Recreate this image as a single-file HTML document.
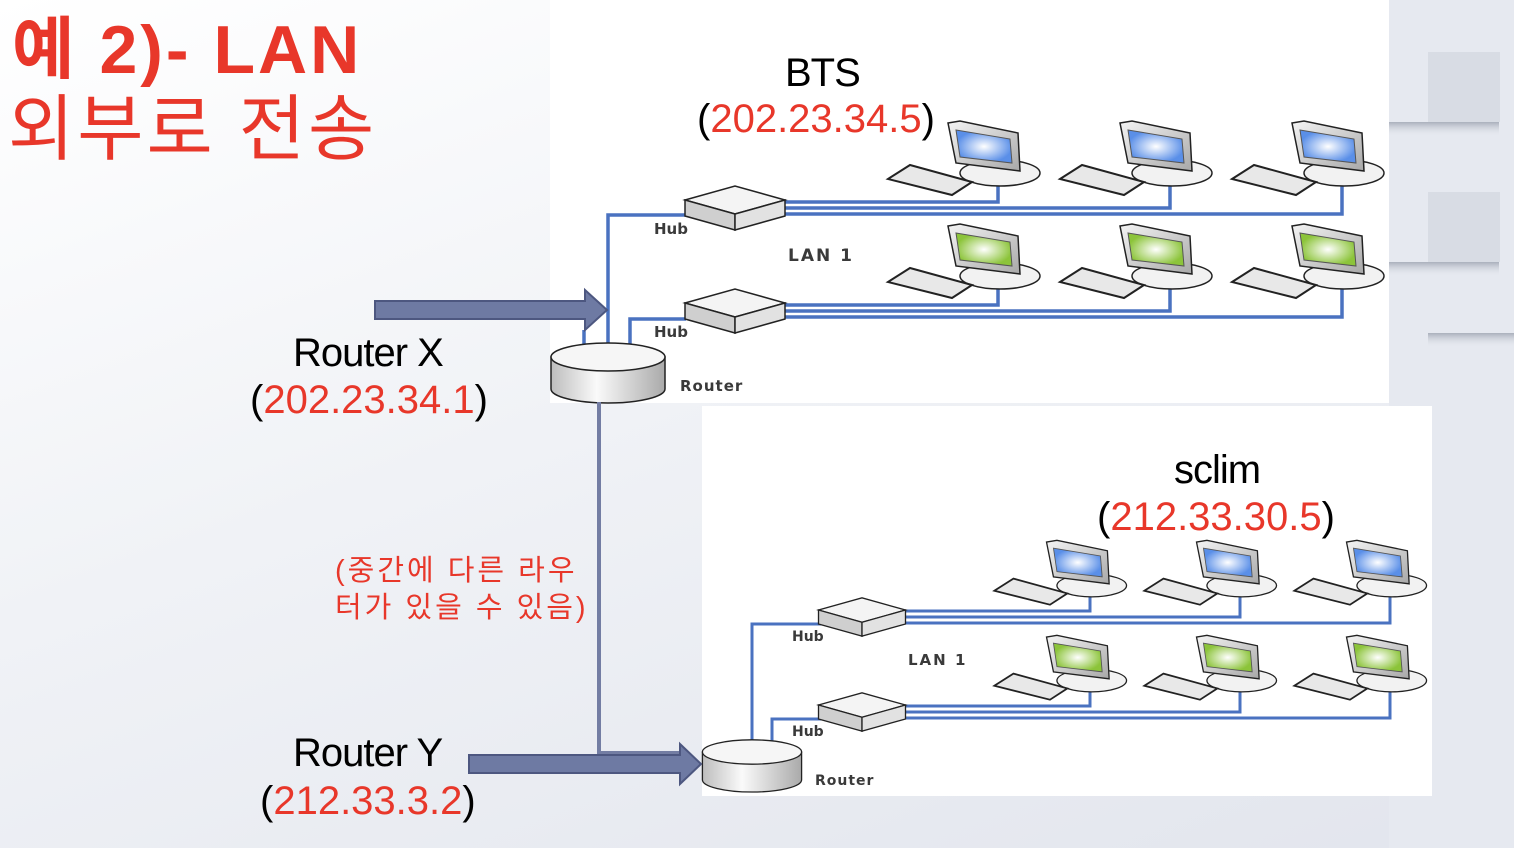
<!DOCTYPE html>
<html><head><meta charset="utf-8"><style>
html,body{margin:0;padding:0}
body{width:1514px;height:848px;overflow:hidden;background:linear-gradient(160deg,#ffffff 0%,#f0f2f6 45%,#e2e5ed 100%);position:relative;font-family:"Liberation Sans","Noto Sans CJK KR",sans-serif}
.t{position:absolute;white-space:nowrap;line-height:1}
.r{color:#e8372a}
</style></head><body>
<svg width="1514" height="848" style="position:absolute;left:0;top:0">
<defs>
<linearGradient id="mg" x1="0" y1="0" x2="1" y2="1"><stop offset="0" stop-color="#f4f4f4"/><stop offset="1" stop-color="#a8a8a8"/></linearGradient>
<radialGradient id="sb"><stop offset="0" stop-color="#ffffff"/><stop offset="1" stop-color="#5a8fe8"/></radialGradient>
<radialGradient id="sg"><stop offset="0" stop-color="#ffffff"/><stop offset="1" stop-color="#8cc43a"/></radialGradient>
<linearGradient id="cy" x1="0" y1="0" x2="1" y2="0"><stop offset="0" stop-color="#bdbdbd"/><stop offset=".4" stop-color="#fafafa"/><stop offset="1" stop-color="#aaaaaa"/></linearGradient>
<g id="pcb">
<ellipse cx="2" cy="-12" rx="40" ry="13" fill="#f2f2f2" stroke="#222" stroke-width="1.5"/>
<polygon points="-110,-6 -88,-20 -26,-3 -46,10" fill="#e8e8e8" stroke="#222" stroke-width="2"/>
<polygon points="-50,-62 -38,-64 20,-52 22,-14 -42,-22" fill="url(#mg)" stroke="#222" stroke-width="1.5"/>
<polygon points="-42,-55 12,-46 14,-22 -38,-28" fill="url(#sb)" stroke="#555"/>
</g>
<g id="pcg">
<ellipse cx="2" cy="-12" rx="40" ry="13" fill="#f2f2f2" stroke="#222" stroke-width="1.5"/>
<polygon points="-110,-6 -88,-20 -26,-3 -46,10" fill="#e8e8e8" stroke="#222" stroke-width="2"/>
<polygon points="-50,-62 -38,-64 20,-52 22,-14 -42,-22" fill="url(#mg)" stroke="#222" stroke-width="1.5"/>
<polygon points="-42,-55 12,-46 14,-22 -38,-28" fill="url(#sg)" stroke="#555"/>
</g>
<g id="hub">
<polygon points="-50,-8 0,-22 50,-8 0,6" fill="#f4f4f4" stroke="#222" stroke-width="1.5"/>
<polygon points="-50,-8 0,6 0,22 -50,8" fill="#cfcfcf" stroke="#222" stroke-width="1.5"/>
<polygon points="0,6 50,-8 50,8 0,22" fill="#e2e2e2" stroke="#222" stroke-width="1.5"/>
</g>
<g id="rt">
<path d="M-57,0 L-57,32 A57,14 0 0 0 57,32 L57,0 Z" fill="url(#cy)" stroke="#222" stroke-width="1.5"/>
<ellipse cx="0" cy="0" rx="57" ry="14" fill="#f6f6f6" stroke="#222" stroke-width="1.5"/>
</g>
<linearGradient id="sh" x1="0" y1="0" x2="0" y2="1"><stop offset="0" stop-color="#aab0bc"/><stop offset="1" stop-color="#e4e7ee" stop-opacity="0"/></linearGradient>
</defs>
<!-- right tiles -->
<rect x="1389" y="0" width="125" height="848" fill="#e6e9f0"/>
<rect x="1428" y="52" width="72" height="70" fill="#d8dce4"/>
<rect x="1389" y="122" width="110" height="14" fill="url(#sh)"/>
<rect x="1428" y="192" width="72" height="70" fill="#d8dce4"/>
<rect x="1389" y="262" width="110" height="14" fill="url(#sh)"/>
<rect x="1428" y="333" width="86" height="14" fill="url(#sh)"/>
<!-- panels -->
<rect x="550" y="0" width="839" height="403" fill="#fff"/>
<rect x="702" y="406" width="730" height="390" fill="#fff"/>
<!-- top lines -->
<g fill="none" stroke="#4a72c0" stroke-width="3.5">
<polyline points="608,345 608,215 686,215"/>
<polyline points="630,345 630,319 686,319"/>
<polyline points="584,345 584,330"/>
<polyline points="785,202 998,202 998,185"/>
<polyline points="785,208 1170,208 1170,185"/>
<polyline points="785,214 1342,214 1342,185"/>
<polyline points="785,305 998,305 998,288"/>
<polyline points="785,311 1170,311 1170,288"/>
<polyline points="785,317 1342,317 1342,288"/>
</g>
<use href="#hub" x="735" y="208"/><use href="#hub" x="735" y="311"/>
<use href="#pcb" x="998" y="185"/><use href="#pcb" x="1170" y="185"/><use href="#pcb" x="1342" y="185"/>
<use href="#pcg" x="998" y="288"/><use href="#pcg" x="1170" y="288"/><use href="#pcg" x="1342" y="288"/>
<use href="#rt" x="608" y="357"/>
<!-- bottom -->
<g fill="none" stroke="#4a72c0" stroke-width="3">
<polyline points="752,745 752,624 822,624"/>
<polyline points="772,745 772,719 822,719"/>
<polyline points="905,611 1090,611 1090,596"/>
<polyline points="905,617 1240,617 1240,596"/>
<polyline points="905,623 1390,623 1390,596"/>
<polyline points="905,706 1090,706 1090,691"/>
<polyline points="905,712 1240,712 1240,691"/>
<polyline points="905,718 1390,718 1390,691"/>
</g>
<g transform="translate(862,617) scale(.87)"><use href="#hub"/></g>
<g transform="translate(862,712) scale(.87)"><use href="#hub"/></g>
<g transform="translate(1090,596) scale(.87)"><use href="#pcb"/></g>
<g transform="translate(1240,596) scale(.87)"><use href="#pcb"/></g>
<g transform="translate(1390,596) scale(.87)"><use href="#pcb"/></g>
<g transform="translate(1090,691) scale(.87)"><use href="#pcg"/></g>
<g transform="translate(1240,691) scale(.87)"><use href="#pcg"/></g>
<g transform="translate(1390,691) scale(.87)"><use href="#pcg"/></g>
<g transform="translate(752,752) scale(.87)"><use href="#rt"/></g>
<!-- connector -->
<polyline points="599,402 599,753 680,753" fill="none" stroke="#737da3" stroke-width="4"/>
<polygon points="375,301 585,301 585,290 607,310 585,330 585,319 375,319" fill="#6e7aa3" stroke="#4d5780" stroke-width="2"/>
<polygon points="469,755 680,755 680,744 701,764 680,784 680,773 469,773" fill="#6e7aa3" stroke="#4d5780" stroke-width="2"/>
<!-- labels -->
<g font-family="DejaVu Sans, sans-serif" fill="#3a3a3a" font-weight="bold">
<text x="654" y="234" font-size="15">Hub</text>
<text x="654" y="337" font-size="15">Hub</text>
<text x="680" y="391" font-size="15" letter-spacing="1">Router</text>
<text x="788" y="261" font-size="17" letter-spacing="2">LAN 1</text>
<text x="792" y="641" font-size="14">Hub</text>
<text x="792" y="736" font-size="14">Hub</text>
<text x="815" y="785" font-size="14" letter-spacing="1">Router</text>
<text x="908" y="665" font-size="15" letter-spacing="2">LAN 1</text>
</g>
</svg>
<div class="t r" style="left:12px;top:16px;font-size:68px;font-weight:bold;letter-spacing:3px">예 2)- LAN</div>
<div class="t r" style="left:8px;top:94px;font-size:72px;letter-spacing:3px">외부로 전송</div>
<div class="t" style="left:293px;top:333px;font-size:40px;letter-spacing:-1px">Router X</div>
<div class="t" style="left:250px;top:380px;font-size:40px">(<span class="r">202.23.34.1</span>)</div>
<div class="t" style="left:785px;top:53px;font-size:40px;letter-spacing:-1px">BTS</div>
<div class="t" style="left:697px;top:99px;font-size:40px">(<span class="r">202.23.34.5</span>)</div>
<div class="t" style="left:1174px;top:450px;font-size:40px;letter-spacing:-1px">sclim</div>
<div class="t" style="left:1097px;top:497px;font-size:40px">(<span class="r">212.33.30.5</span>)</div>
<div class="t r" style="left:335px;top:553px;font-size:29px;line-height:37px;letter-spacing:3px">(중간에 다른 라우<br>터가 있을 수 있음)</div>
<div class="t" style="left:293px;top:733px;font-size:40px;letter-spacing:-1px">Router Y</div>
<div class="t" style="left:260px;top:781px;font-size:40px">(<span class="r">212.33.3.2</span>)</div>
</body></html>
